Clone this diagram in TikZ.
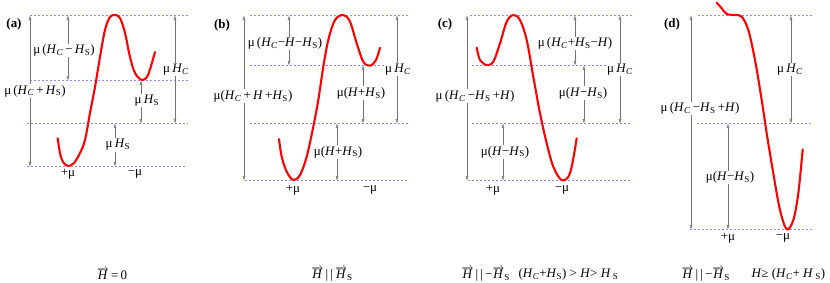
\documentclass[tikz,border=0pt]{standalone}
\usepackage{fontspec}
\setmainfont{Liberation Serif}
\usetikzlibrary{arrows.meta}

\definecolor{lvblue}{RGB}{140,140,255}
\newcommand{\hc}{\textit{H}\textsubscript{\textit{C}}}
\newcommand{\hs}{\textit{H}\textsubscript{S}}
\newcommand{\hh}{\textit{H}}
\newcommand{\vh}{$\overrightarrow{\mbox{\textit{H}}}$}

\begin{document}
\begin{tikzpicture}[
  x=1bp, y=-1bp,
  font=\fontsize{13}{15}\selectfont,
  lvline/.style={draw=lvblue, dash pattern=on 2bp off 2bp, line width=1bp},
  dimarrow/.style={draw=black!55, line width=0.6bp,
    {Triangle[open, length=4.5bp, width=2.6bp]}-{Triangle[open, length=4.5bp, width=2.6bp]}},
  lbl/.style={fill=white, inner sep=1bp},
  tag/.style={font=\fontsize{13}{15}\selectfont\bfseries},
  curve/.style={draw=red, line width=2.1bp, line cap=round, line join=round}
]
  \useasboundingbox (0,0) rectangle (830,282);

  % Panel (a)
  \node[tag] (a-tag) at (14,24) {(a)};
  \foreach \y/\xa/\xb in {15.5/30/188, 80.5/30/188, 123.5/27/188, 166.5/27/186}
    \draw[lvline] (\xa,\y) -- (\xb,\y);
  \foreach \n/\x/\ya/\yb/\p/\dx/\txt in {
      l/30/15.5/166.5/0.5/5/{μ\,(\hc\,+\,\hs)},
      t/68/15.5/80.5/0.54/-4/{μ\,(\hc\,−\,\hs)},
      c/175/15.5/123.5/0.5/1/{μ\,\hc},
      m/141/80.5/123.5/0.47/6/{μ\,\hs},
      b/115/123.5/166.5/0.5/3/{μ\,\hs}} {
    \coordinate (a-\n-t) at (\x,\ya);
    \coordinate (a-\n-b) at (\x,\yb);
    \draw[dimarrow] (a-\n-t) -- node[lbl, pos=\p, xshift=\dx bp] {\txt} (a-\n-b);
  }
  \node (a-plus) at (68,174) {+μ};
  \node (a-minus) at (135,174) {−μ};
  \draw[curve] plot[smooth, tension=0.55] coordinates {
    (57.7,138.3) (60,153) (63,162) (68,166) (74,163) (80,153) (85,140)
    (90,113) (95,87) (100,57) (105,30) (110,17) (115,15) (120,18)
    (125,33) (130,57) (135,73) (142,80) (148,75) (155,52)};

  % Panel (b)
  \node[tag] (b-tag) at (222,25) {(b)};
  \foreach \y/\xa/\xb in {15.5/250/410, 65.5/250/410, 123.5/250/410, 180.5/245/407}
    \draw[lvline] (\xa,\y) -- (\xb,\y);
  \foreach \n/\x/\ya/\yb/\p/\dx/\txt in {
      l/244/15.5/180.5/0.49/9/{μ(\hc\,+\,\hh\,+\hs)},
      t/289/15.5/65.5/0.56/-4/{μ\,(\hc−\hh−\hs)},
      c/397/15.5/123.5/0.5/1/{μ\,\hc},
      m/363/65.5/123.5/0.48/-2/{μ(\hh+\hs)},
      b/337/123.5/180.5/0.5/1/{μ(\hh+\hs)}} {
    \coordinate (b-\n-t) at (\x,\ya);
    \coordinate (b-\n-b) at (\x,\yb);
    \draw[dimarrow] (b-\n-t) -- node[lbl, pos=\p, xshift=\dx bp] {\txt} (b-\n-b);
  }
  \node (b-plus) at (293,190) {+μ};
  \node (b-minus) at (370,190) {−μ};
  \draw[curve] plot[smooth, tension=0.55] coordinates {
    (279,139) (281.7,156.7) (286.7,171.7) (293.3,180) (300,175) (306.7,156.7)
    (313.3,126.7) (318.3,100) (323.3,66.7) (328.3,40) (335,20) (343.3,15)
    (350,21.7) (356.7,43.3) (363.3,61.7) (370,65.7) (376,60) (380,47.7)};

  % Panel (c)
  \node[tag] (c-tag) at (445,24) {(c)};
  \foreach \y/\xa/\xb in {15.5/470/632, 65.5/472/632, 123.5/472/632, 180.5/468/630}
    \draw[lvline] (\xa,\y) -- (\xb,\y);
  \foreach \n/\x/\ya/\yb/\p/\dx/\txt in {
      l/467/15.5/180.5/0.49/8/{μ\,(\hc\,−\hs\,+\hh)},
      t/575/15.5/65.5/0.56/0/{μ\,(\hc+\hs−\hh)},
      c/620/15.5/123.5/0.5/0/{μ\,\hc},
      m/584/65.5/123.5/0.48/-1/{μ(\hh−\hs)},
      b/503/123.5/180.5/0.5/2/{μ(\hh−\hs)}} {
    \coordinate (c-\n-t) at (\x,\ya);
    \coordinate (c-\n-b) at (\x,\yb);
    \draw[dimarrow] (c-\n-t) -- node[lbl, pos=\p, xshift=\dx bp] {\txt} (c-\n-b);
  }
  \node (c-plus) at (493,190) {+μ};
  \node (c-minus) at (562,190) {−μ};
  \draw[curve] plot[smooth, tension=0.55] coordinates {
    (476.7,47.7) (480,60) (486.7,65) (493.3,61.7) (500,43.3) (506.7,21.7)
    (513.3,15) (520,20) (526.7,40) (533.3,76.7) (540,113.3) (546.7,143.3)
    (553.3,166.7) (561.7,180) (570,173.3) (576.7,138.3)};

  % Panel (d)
  \node[tag] (d-tag) at (672,24) {(d)};
  \foreach \y/\xa/\xb in {15.5/698/813, 123.5/697/813, 229.5/690/813}
    \draw[lvline] (\xa,\y) -- (\xb,\y);
  \foreach \n/\x/\ya/\yb/\p/\dx/\txt in {
      l/691/15.5/229.5/0.435/9/{μ\,(\hc\,−\hs\,+\hh)},
      c/791/15.5/123.5/0.5/-1/{μ\,\hc},
      b/728/123.5/229.5/0.51/2/{μ(\hh−\hs)}} {
    \coordinate (d-\n-t) at (\x,\ya);
    \coordinate (d-\n-b) at (\x,\yb);
    \draw[dimarrow] (d-\n-t) -- node[lbl, pos=\p, xshift=\dx bp] {\txt} (d-\n-b);
  }
  \node (d-plus) at (728,238) {+μ};
  \node (d-minus) at (783,238) {−μ};
  \draw[curve] plot[smooth, tension=0.55] coordinates {
    (716.7,2.7) (721.7,8.3) (726.7,14) (735,15) (741.7,16.7) (748.3,30)
    (755,60) (761.7,100) (766.7,133.3) (773.3,173.3) (780,210) (786.7,229.3)
    (793.3,220) (798.3,193.3) (802.7,149.3)};

  % Bedingungen
  \node (cap-a) at (112,274) {\vh\,=\,0};
  \node (cap-b) at (332,274) {\vh\,|\,|\,\vh\textsubscript{S}};
  \node[anchor=west] (cap-c1) at (458,274) {\vh\,|\,|\,−\vh\textsubscript{S}};
  \node[anchor=west] (cap-c2) at (515,274) {(\hc+\hs) > \hh > \hh\,\textsubscript{S}};
  \node[anchor=west] (cap-d1) at (678,274) {\vh\,|\,|\,−\vh\textsubscript{S}};
  \node[anchor=west] (cap-d2) at (748,274) {\hh ≥ (\hc+ \hh\,\textsubscript{S})};
\end{tikzpicture}
\end{document}
